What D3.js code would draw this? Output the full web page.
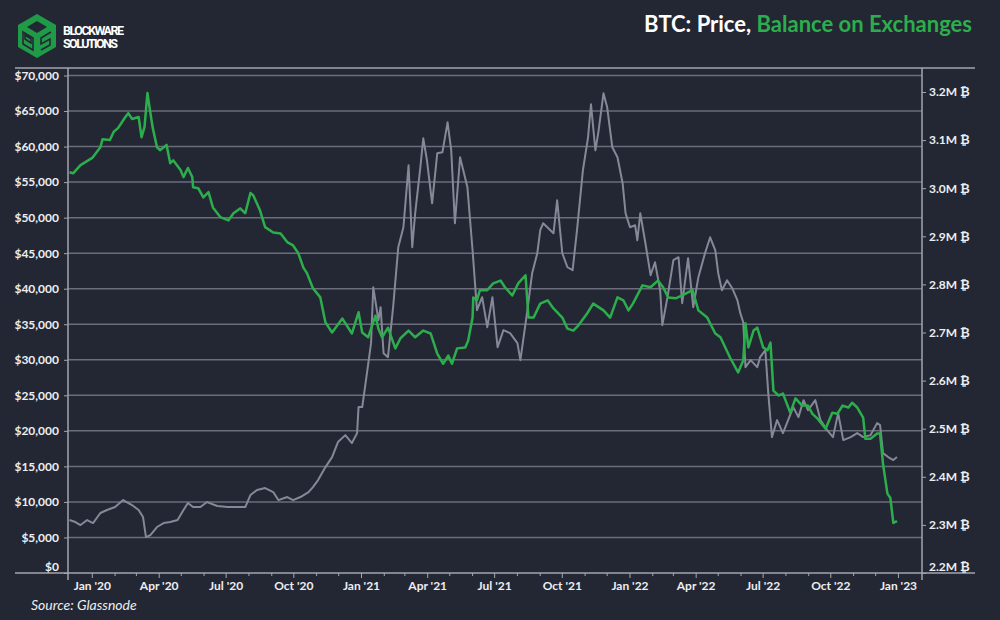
<!DOCTYPE html>
<html>
<head>
<meta charset="utf-8">
<script src="https://cdn.jsdelivr.net/npm/d3@7"></script>
<style>
  html, body { margin: 0; padding: 0; background: #232733; }
  svg { display: block; }
</style>
</head>
<body>
<div id="chart"></div>
<script>
// BTC price (left axis, USD) and balance on exchanges (right axis, millions of BTC)

const priceDates = [
  "2019-12-01","2019-12-09","2019-12-16","2019-12-25","2020-01-02","2020-01-12","2020-01-21","2020-02-01",
  "2020-02-12","2020-02-24","2020-03-04","2020-03-10","2020-03-14","2020-03-20","2020-03-29","2020-04-07",
  "2020-04-16","2020-04-26","2020-05-04","2020-05-10","2020-05-17","2020-05-27","2020-06-05","2020-06-19",
  "2020-07-03","2020-07-16","2020-07-27","2020-08-03","2020-08-12","2020-08-23","2020-09-03","2020-09-10",
  "2020-09-22","2020-09-30","2020-10-10","2020-10-21","2020-10-27","2020-11-03","2020-11-13","2020-11-22",
  "2020-11-30","2020-12-10","2020-12-19","2020-12-26","2020-12-28","2021-01-02","2021-01-09","2021-01-14",
  "2021-01-17","2021-01-24","2021-01-27","2021-01-31","2021-02-06","2021-02-13","2021-02-20","2021-02-27",
  "2021-03-06","2021-03-11","2021-03-15","2021-03-22","2021-03-26","2021-03-31","2021-04-07","2021-04-14",
  "2021-04-21","2021-04-28","2021-05-03","2021-05-08","2021-05-15","2021-05-25","2021-06-01","2021-06-07",
  "2021-06-14","2021-06-21","2021-06-28","2021-07-05","2021-07-13","2021-07-22","2021-08-01","2021-08-05",
  "2021-08-14","2021-08-21","2021-08-28","2021-09-01","2021-09-05","2021-09-12","2021-09-19","2021-09-24",
  "2021-10-01","2021-10-08","2021-10-15","2021-10-21","2021-10-29","2021-11-05","2021-11-09","2021-11-15",
  "2021-11-19","2021-11-26","2021-12-01","2021-12-08","2021-12-15","2021-12-22","2021-12-26","2022-01-01",
  "2022-01-08","2022-01-11","2022-01-15","2022-01-22","2022-01-29","2022-02-04","2022-02-11","2022-02-14",
  "2022-02-21","2022-03-01","2022-03-08","2022-03-13","2022-03-21","2022-03-28","2022-04-04","2022-04-13",
  "2022-04-20","2022-04-27","2022-05-01","2022-05-06","2022-05-13","2022-05-20","2022-05-27","2022-05-31",
  "2022-06-04","2022-06-07","2022-06-14","2022-06-23","2022-06-27","2022-07-04","2022-07-08","2022-07-13",
  "2022-07-20","2022-07-28","2022-08-04","2022-08-11","2022-08-18","2022-08-25","2022-08-31","2022-09-10",
  "2022-09-17","2022-09-26","2022-10-04","2022-10-11","2022-10-18","2022-10-28","2022-11-06","2022-11-14",
  "2022-11-24","2022-12-03","2022-12-07","2022-12-11","2022-12-18","2022-12-25","2022-12-30"
];
const priceValues = [
  7450,7170,6750,7450,7030,8440,8860,9280,
  10260,9560,8860,7870,5060,5340,6470,7030,
  7170,7450,8860,9840,9280,9280,9980,9420,
  9280,9280,9280,10970,11670,11950,11390,10260,
  10690,10260,10690,11390,12090,13080,14900,16310,
  18420,19400,18280,19680,23340,23340,28540,32340,
  40210,35570,37400,30930,30370,37400,45840,48650,
  57360,45840,50620,57080,61160,58070,52020,59050,
  59190,63410,59470,49210,58490,54270,45410,36980,
  38810,34590,38810,31780,34170,33740,32340,29950,
  36560,42180,44990,48230,49210,48510,47800,52440,
  44990,43020,42600,48230,56660,61300,65940,59470,
  62000,67490,65520,59900,58490,54830,50620,48650,
  48930,46820,50620,46400,41900,43730,39790,34870,
  38810,44010,44430,37960,44290,37400,41620,44990,
  47240,45410,42180,39790,41200,40070,38380,36560,
  35290,28960,29950,28960,30370,31350,25310,19120,
  21510,19680,21510,23340,21930,24320,22920,24320,
  21510,20110,19120,22500,18700,19120,19680,19120,
  19400,21090,20810,16870,16310,15890,16310
];

const balanceDates = [
  "2019-12-01","2019-12-06","2019-12-16","2020-01-01","2020-01-12","2020-01-15","2020-01-25","2020-01-30",
  "2020-02-05","2020-02-15","2020-02-19","2020-02-24","2020-03-04","2020-03-08","2020-03-12","2020-03-16",
  "2020-03-18","2020-03-23","2020-03-29","2020-04-02","2020-04-11","2020-04-16","2020-04-20","2020-04-30",
  "2020-05-04","2020-05-10","2020-05-16","2020-05-17","2020-05-24","2020-05-31","2020-06-07","2020-06-13",
  "2020-06-23","2020-07-04","2020-07-11","2020-07-20","2020-07-27","2020-08-03","2020-08-07","2020-08-16",
  "2020-08-23","2020-09-03","2020-09-13","2020-09-22","2020-09-30","2020-10-07","2020-10-14","2020-10-19",
  "2020-10-27","2020-11-06","2020-11-13","2020-11-22","2020-12-06","2020-12-19","2020-12-28","2021-01-02",
  "2021-01-10","2021-01-20","2021-01-24","2021-01-29","2021-02-06","2021-02-16","2021-02-23","2021-03-06",
  "2021-03-15","2021-03-26","2021-04-05","2021-04-14","2021-04-22","2021-04-29","2021-05-04","2021-05-11",
  "2021-05-22","2021-05-26","2021-06-01","2021-06-02","2021-06-07","2021-06-11","2021-06-21","2021-06-29",
  "2021-07-09","2021-07-15","2021-07-25","2021-08-02","2021-08-12","2021-08-16","2021-08-23","2021-09-01",
  "2021-09-11","2021-09-19","2021-10-01","2021-10-08","2021-10-16","2021-10-23","2021-11-04","2021-11-12",
  "2021-11-26","2021-12-05","2021-12-15","2021-12-23","2021-12-30","2022-01-05","2022-01-18","2022-01-29",
  "2022-02-08","2022-02-15","2022-02-22","2022-03-04","2022-03-13","2022-03-27","2022-04-04","2022-04-16",
  "2022-04-27","2022-05-04","2022-05-17","2022-05-28","2022-06-04","2022-06-07","2022-06-11","2022-06-18",
  "2022-06-23","2022-07-01","2022-07-07","2022-07-11","2022-07-15","2022-07-22","2022-07-28","2022-08-07",
  "2022-08-14","2022-08-23","2022-08-31","2022-09-06","2022-09-13","2022-09-24","2022-10-03","2022-10-10",
  "2022-10-17","2022-10-25","2022-10-30","2022-11-06","2022-11-14","2022-11-17","2022-11-24","2022-12-03",
  "2022-12-07","2022-12-11","2022-12-17","2022-12-21","2022-12-25","2022-12-30"
];
const balanceValues = [
  3.033,3.031,3.048,3.063,3.085,3.102,3.100,3.117,
  3.125,3.148,3.156,3.144,3.148,3.106,3.127,3.198,
  3.177,3.127,3.085,3.079,3.090,3.052,3.058,3.038,
  3.023,3.042,3.023,3.002,3.000,2.981,2.992,2.960,
  2.940,2.933,2.948,2.958,2.948,2.990,2.985,2.954,
  2.919,2.908,2.906,2.888,2.881,2.865,2.835,2.823,
  2.792,2.773,2.721,2.700,2.729,2.698,2.742,2.700,
  2.690,2.735,2.708,2.690,2.710,2.667,2.688,2.704,
  2.690,2.704,2.698,2.656,2.635,2.652,2.635,2.667,
  2.669,2.683,2.731,2.773,2.767,2.788,2.788,2.802,
  2.808,2.794,2.777,2.802,2.819,2.731,2.731,2.760,
  2.767,2.750,2.731,2.708,2.704,2.715,2.740,2.760,
  2.746,2.731,2.773,2.767,2.746,2.760,2.798,2.794,
  2.808,2.794,2.773,2.771,2.777,2.788,2.746,2.731,
  2.698,2.690,2.648,2.617,2.642,2.719,2.669,2.704,
  2.710,2.669,2.663,2.679,2.579,2.569,2.573,2.533,
  2.563,2.548,2.548,2.531,2.521,2.500,2.533,2.531,
  2.548,2.544,2.554,2.544,2.523,2.479,2.479,2.490,
  2.490,2.427,2.365,2.356,2.304,2.308
];

const priceTicks = [0,5000,10000,15000,20000,25000,30000,35000,40000,45000,50000,55000,60000,65000,70000];
const balanceTicks = [2.2,2.3,2.4,2.5,2.6,2.7,2.8,2.9,3.0,3.1,3.2];

const width = 1000, height = 620;
const plotLeft = 68, plotRight = 922, plotTop = 68, plotBottom = 573;

const gridColor = "#6a6e7a";
const axisColor = "#a3a6ae";
const green = "#2cae4c";
const grey = "#858997";
const textColor = "#eceef2";

const parse = d3.timeParse("%Y-%m-%d");
const priceData = priceDates.map((d, i) => ({ date: parse(d), value: priceValues[i] }));
const balanceData = balanceDates.map((d, i) => ({ date: parse(d), value: balanceValues[i] }));

const svg = d3.select("#chart")
  .append("svg")
  .attr("width", width)
  .attr("height", height)
  .style("font-family", "Lato, 'Open Sans', sans-serif");

svg.append("rect")
  .attr("width", width)
  .attr("height", height)
  .attr("fill", "#232733");

const x = d3.scaleTime()
  .domain([parse("2019-11-29"), parse("2023-02-02")])
  .range([plotLeft, plotRight]);

const yPrice = d3.scaleLinear()
  .domain([0, 70000])
  .range([plotBottom, 75.5]);

const yBal = d3.scaleLinear()
  .domain([2.2, 3.2])
  .range([plotBottom, 92]);

// gridlines from the price axis
svg.append("g")
  .selectAll("line")
  .data(priceTicks.filter(t => t > 0))
  .enter()
  .append("line")
  .attr("x1", plotLeft)
  .attr("x2", plotRight)
  .attr("y1", d => yPrice(d))
  .attr("y2", d => yPrice(d))
  .attr("stroke", gridColor)
  .attr("stroke-width", 1.5);

// frame lines
svg.append("line")
  .attr("x1", 15).attr("x2", 975)
  .attr("y1", plotTop).attr("y2", plotTop)
  .attr("stroke", axisColor).attr("stroke-width", 1.5);
svg.append("line")
  .attr("x1", 15).attr("x2", 975)
  .attr("y1", plotBottom).attr("y2", plotBottom)
  .attr("stroke", axisColor).attr("stroke-width", 1.5);

// left axis
const leftAxis = svg.append("g")
  .attr("transform", `translate(${plotLeft},0)`)
  .call(d3.axisLeft(yPrice)
    .tickValues(priceTicks)
    .tickSize(4)
    .tickPadding(5)
    .tickFormat(d => "$" + d3.format(",")(d)));

// right axis
const rightAxis = svg.append("g")
  .attr("transform", `translate(${plotRight},0)`)
  .call(d3.axisRight(yBal)
    .tickValues(balanceTicks)
    .tickSize(4)
    .tickPadding(3)
    .tickFormat(d => d.toFixed(1) + "M \u20BF"));

[leftAxis, rightAxis].forEach(g => {
  g.select(".domain").remove();
  g.selectAll(".tick line").attr("stroke", axisColor).attr("stroke-width", 1);
  g.selectAll(".tick text")
    .attr("fill", textColor)
    .attr("font-size", "12px")
    .attr("font-weight", "bold")
    .attr("font-family", "Lato, 'DejaVu Sans', sans-serif");
});
// bottom labels sit just above the baseline
leftAxis.selectAll(".tick").filter(d => d === 0).select("text").attr("dy", "-0.25em");
rightAxis.selectAll(".tick").filter(d => d === 2.2).select("text").attr("dy", "-0.25em");

// vertical axis lines
svg.append("line")
  .attr("x1", plotLeft).attr("x2", plotLeft)
  .attr("y1", plotTop).attr("y2", plotBottom + 7)
  .attr("stroke", axisColor).attr("stroke-width", 1.5);
svg.append("line")
  .attr("x1", plotRight).attr("x2", plotRight)
  .attr("y1", plotTop).attr("y2", plotBottom + 7)
  .attr("stroke", axisColor).attr("stroke-width", 1.5);

// x axis: monthly minor ticks, quarterly labels
const months = d3.timeMonth.range(parse("2020-01-01"), parse("2023-01-02"));
svg.append("g")
  .selectAll("line")
  .data(months)
  .enter()
  .append("line")
  .attr("x1", d => x(d))
  .attr("x2", d => x(d))
  .attr("y1", plotBottom)
  .attr("y2", d => plotBottom + (d.getMonth() % 3 === 0 ? 5 : 3))
  .attr("stroke", axisColor)
  .attr("stroke-width", 1);

const quarters = months.filter(d => d.getMonth() % 3 === 0);
const fmtMonth = d3.timeFormat("%b");
const fmtYear = d3.timeFormat("%y");
svg.append("g")
  .selectAll("text")
  .data(quarters)
  .enter()
  .append("text")
  .attr("x", d => x(d))
  .attr("y", 590)
  .attr("text-anchor", "middle")
  .attr("fill", textColor)
  .attr("font-size", "12px")
  .attr("font-weight", "bold")
  .text(d => fmtMonth(d) + " '" + fmtYear(d));

// series
const priceLine = d3.line()
  .x(d => x(d.date))
  .y(d => yPrice(d.value));
const balLine = d3.line()
  .x(d => x(d.date))
  .y(d => yBal(d.value));

svg.append("path")
  .datum(priceData)
  .attr("fill", "none")
  .attr("stroke", grey)
  .attr("stroke-width", 2)
  .attr("stroke-linejoin", "round")
  .attr("d", priceLine);

svg.append("path")
  .datum(balanceData)
  .attr("fill", "none")
  .attr("stroke", green)
  .attr("stroke-width", 2.5)
  .attr("stroke-linejoin", "round")
  .attr("d", balLine);

// title
const title = svg.append("text")
  .attr("x", 972)
  .attr("y", 32)
  .attr("text-anchor", "end")
  .attr("font-size", "22px")
  .attr("font-weight", "bold");
title.append("tspan").attr("fill", "#ffffff").text("BTC: Price, ");
title.append("tspan").attr("fill", green).text("Balance on Exchanges");

// source
svg.append("text")
  .attr("x", 31)
  .attr("y", 610)
  .attr("fill", textColor)
  .attr("font-size", "14px")
  .attr("font-style", "italic")
  .text("Source: Glassnode");

// logo
const logo = svg.append("g").attr("transform", "translate(37,36)");
const hex = [[0,-22],[19,-11],[19,11],[0,22],[-19,11],[-19,-11]];
logo.append("polygon")
  .attr("points", hex.map(p => p.join(",")).join(" "))
  .attr("fill", "#1f9a47");
logo.append("polygon")
  .attr("points", "0,-15 10,-9 0,-3 -10,-9")
  .attr("fill", "#232733");
logo.append("path")
  .attr("d", "M-14,-4 L-4,2 L-4,14 L-14,8 Z M-12,-1 L-6,3 L-6,7 L-12,3 Z")
  .attr("fill", "none")
  .attr("stroke", "#232733")
  .attr("stroke-width", 1.6);
logo.append("path")
  .attr("d", "M14,-4 L4,2 L4,8 L13,3 L13,9 L4,14")
  .attr("fill", "none")
  .attr("stroke", "#232733")
  .attr("stroke-width", 1.6);

svg.append("text")
  .attr("x", 63).attr("y", 35)
  .attr("fill", "#ffffff")
  .attr("font-family", "Roboto, sans-serif")
  .attr("font-size", "12.5px")
  .attr("font-weight", "bold")
  .attr("textLength", 61)
  .text("BLOCKWARE");
svg.append("text")
  .attr("x", 63).attr("y", 48)
  .attr("fill", "#ffffff")
  .attr("font-family", "Roboto, sans-serif")
  .attr("font-size", "12.5px")
  .attr("font-weight", "bold")
  .attr("textLength", 55)
  .text("SOLUTIONS");
</script>
</body>
</html>
